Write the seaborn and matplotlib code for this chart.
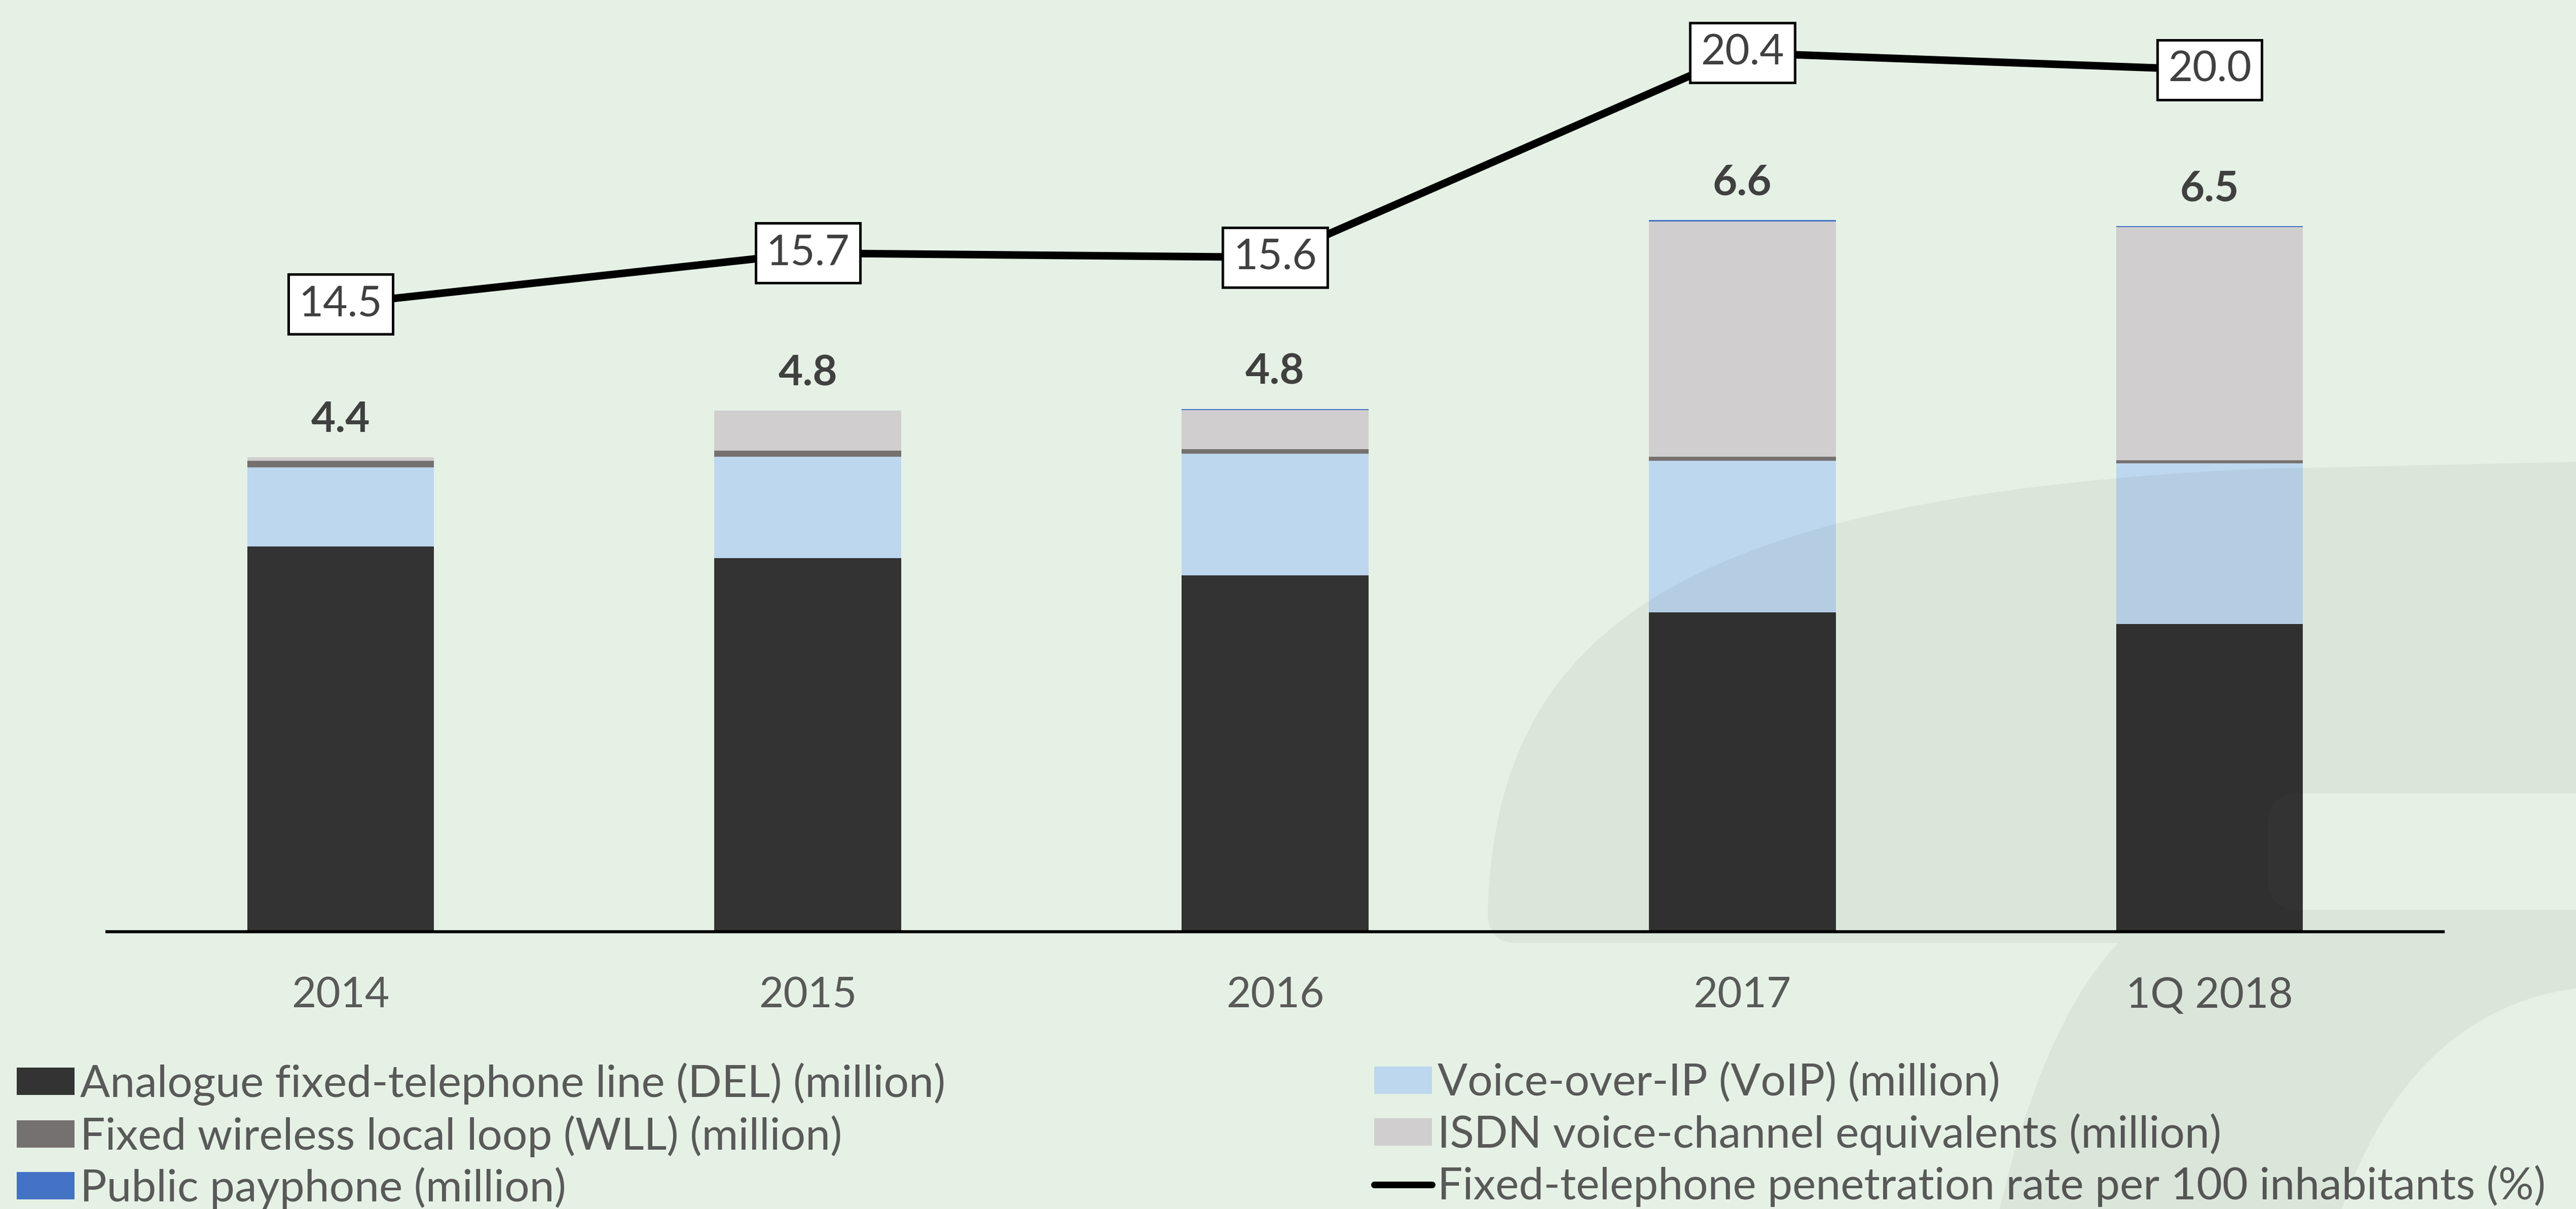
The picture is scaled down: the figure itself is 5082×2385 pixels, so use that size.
import numpy as np
import pandas as pd
import matplotlib.pyplot as plt
from matplotlib.path import Path
from matplotlib.patches import PathPatch, Patch
from matplotlib.lines import Line2D
import seaborn as sns

# --- data ---
periods = ["2014", "2015", "2016", "2017", "1Q 2018"]
del_lines = [3.57, 3.46, 3.30, 2.96, 2.85]     # analogue fixed lines (million)
voip = [0.73, 0.94, 1.13, 1.40, 1.49]           # VoIP (million)
wll = [0.06, 0.056, 0.04, 0.04, 0.025]          # WLL (million)
isdn = [0.035, 0.37, 0.36, 2.18, 2.16]          # ISDN voice channels (million)
payphone = [0.0, 0.0, 0.01, 0.01, 0.01]         # public payphones (million)
penetration = [14.5, 15.7, 15.6, 20.4, 20.0]    # per 100 inhabitants (%)

labels = {
    "DEL": "Analogue fixed-telephone line (DEL) (million)",
    "VoIP": "Voice-over-IP (VoIP) (million)",
    "WLL": "Fixed wireless local loop (WLL) (million)",
    "ISDN": "ISDN voice-channel equivalents (million)",
    "Payphone": "Public payphone (million)",
    "Rate": "Fixed-telephone penetration rate per 100 inhabitants (%)",
}
colors = {
    "DEL": "#333333",
    "VoIP": "#BDD7EE",
    "WLL": "#767171",
    "ISDN": "#D0CECE",
    "Payphone": "#4472C4",
}

df = pd.DataFrame({"period": periods, "DEL": del_lines, "VoIP": voip,
                   "WLL": wll, "ISDN": isdn, "Payphone": payphone})
stack = ["DEL", "VoIP", "WLL", "ISDN", "Payphone"]
cum = df[stack].cumsum(axis=1)
totals = cum["Payphone"]

sns.set_theme(style="white")
plt.rcParams["font.family"] = ["Lato", "DejaVu Sans"]

W, H = 5082, 2385
bg = "#E5F1E5"
fig = plt.figure(figsize=(W / 200, H / 200), dpi=200, facecolor=bg)
ax = fig.add_axes([211 / W, 1 - 1838 / H, (4820 - 211) / W, 1838 / H])
ax.patch.set_alpha(0)

# stacked bars: draw cumulative heights from the top layer down
for key in reversed(stack):
    sns.barplot(x=df["period"], y=cum[key], order=periods, color=colors[key],
                width=0.4, saturation=1, errorbar=None, linewidth=0, ax=ax)

ax.set_xlim(-0.5, 4.5)
ax.set_ylim(0, 8.63)
ax.set_yticks([])
ax.set_xlabel("")
ax.set_ylabel("")
for s in ["left", "right", "top"]:
    ax.spines[s].set_visible(False)
ax.spines["bottom"].set_color("black")
ax.spines["bottom"].set_linewidth(2.2)
ax.tick_params(axis="x", length=0, pad=32, labelsize=30, labelcolor="#595959")

for i, v in enumerate(totals):
    ax.annotate(f"{v:.1f}", (i, v), xytext=(0, 18), textcoords="offset points",
                ha="center", va="baseline", fontsize=30, fontweight="bold",
                color="#404040")

# penetration rate on a secondary axis
ax2 = ax.twinx()
xpos = np.arange(len(periods))
sns.lineplot(x=xpos, y=penetration, ax=ax2, color="black", linewidth=5.4,
             legend=False)
ax2.set_ylim(-0.226, 21.64)
ax2.set_yticks([])
ax2.set_ylabel("")
for s in ax2.spines.values():
    s.set_visible(False)
for i, v in enumerate(penetration):
    ax2.text(i, v, f"{v:.1f}", ha="center", va="center", fontsize=30,
             color="#404040", zorder=5,
             bbox=dict(boxstyle="square,pad=0.25", facecolor="white",
                       edgecolor="black", linewidth=1.8))

# legend in two columns
def h(key):
    return Patch(facecolor=colors[key], edgecolor="none", label=labels[key])

leg_kw = dict(frameon=False, fontsize=31.5, handlelength=1.3, handleheight=0.57,
              handletextpad=0.13, labelspacing=0.22, borderpad=0,
              borderaxespad=0, labelcolor="#595959", loc="upper left")
fig.legend(handles=[h("DEL"), h("WLL"), h("Payphone")],
           bbox_to_anchor=(33 / W, 1 - 2096 / H), **leg_kw)
fig.legend(handles=[h("VoIP"), h("ISDN"),
                    Line2D([0], [0], color="black", lw=4.7, label=labels["Rate"])],
           bbox_to_anchor=(2711 / W, 1 - 2096 / H), **leg_kw)

# faint background swoosh on the right
def fxy(x, y):
    return (x / W, 1 - y / H)

verts = [fxy(2990, 1860), fxy(2935, 1860), fxy(2935, 1800),
         fxy(2950, 1250), fxy(3300, 980), fxy(4450, 925),
         fxy(5082, 911), fxy(5082, 1565), fxy(4540, 1565),
         fxy(4474, 1565), fxy(4474, 1625), fxy(4474, 1735),
         fxy(4474, 1795), fxy(4540, 1795), fxy(5082, 1795),
         fxy(5082, 1950),
         fxy(4850, 1980), fxy(4700, 2150), fxy(4620, 2385),
         fxy(3945, 2385),
         fxy(4000, 2150), fxy(4080, 1960), fxy(4180, 1860),
         fxy(2990, 1860)]
codes = [Path.MOVETO, Path.CURVE3, Path.CURVE3,
         Path.CURVE4, Path.CURVE4, Path.CURVE4,
         Path.LINETO, Path.LINETO, Path.LINETO,
         Path.CURVE3, Path.CURVE3, Path.LINETO,
         Path.CURVE3, Path.CURVE3, Path.LINETO,
         Path.LINETO,
         Path.CURVE4, Path.CURVE4, Path.CURVE4,
         Path.LINETO,
         Path.CURVE4, Path.CURVE4, Path.CURVE4,
         Path.CLOSEPOLY]
fig.add_artist(PathPatch(Path(verts, codes), transform=fig.transFigure,
                         facecolor="black", edgecolor="none", alpha=0.045,
                         zorder=10))

fig.savefig("out.png", dpi=200, facecolor=bg)
